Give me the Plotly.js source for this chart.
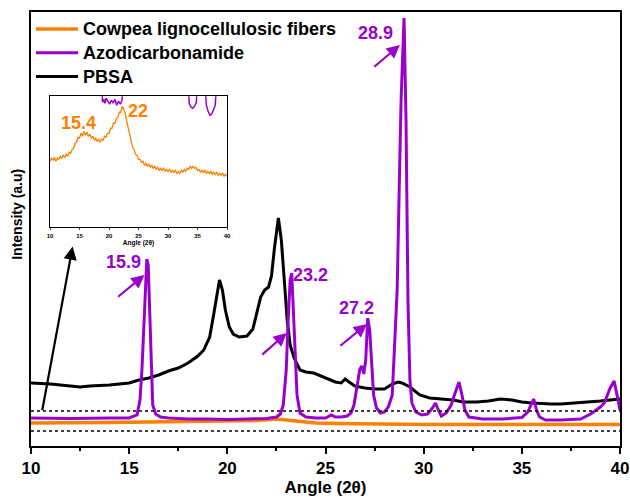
<!DOCTYPE html>
<html>
<head>
<meta charset="utf-8">
<script src="https://cdn.plot.ly/plotly-3.0.1.min.js"></script>
<style>html,body{margin:0;padding:0;background:#fff;}#chart{width:630px;height:497px;}</style>
</head>
<body>
<div id="chart"></div>
<script>
// ---- Data (intensity in arbitrary units) ----
const pbsaX = [10,11,12,12.5,13,14,15,15.5,16,16.5,17,17.5,18,18.5,18.8,19.1,19.3,19.45,19.6,19.75,19.9,20.1,20.3,20.6,21.0,21.3,21.5,21.7,21.9,22.1,22.25,22.4,22.6,22.75,22.9,23.05,23.2,23.4,23.7,24.0,24.4,25.0,25.5,25.8,26.0,26.2,26.5,27.0,27.5,28.0,28.4,28.7,28.9,29.3,29.8,30.3,31.0,31.5,32.0,32.7,33.3,33.9,34.5,35.0,35.5,36.1,36.5,37.0,37.8,38.5,39.0,39.5,40];
const pbsaY = [63,62,60,59,60,61,63,66,68,71,75,78,83,90,96,109,131,151,166,156,136,119,112,109,110,117,134,149,156,159,170,198,228,206,166,126,101,88,76,74,73,68,64,63,67,64,60,58,57,57,62,64,63,59,51,48,47,46,44,44,45,47,46,44,43,42,42,42,43,44,45,46,47];

const azoX = [10,12,14,15,15.4,15.55,15.65,15.75,15.85,15.9,15.97,16.05,16.12,16.2,16.35,16.6,17,18,19,20,21,22,22.5,22.7,22.85,23.0,23.1,23.2,23.28,23.35,23.45,23.55,23.7,24.0,24.5,25.0,25.3,25.5,25.8,26.1,26.3,26.45,26.6,26.75,26.85,26.95,27.05,27.15,27.25,27.35,27.45,27.6,27.8,28.0,28.2,28.4,28.55,28.65,28.75,28.85,29.0,29.1,29.2,29.3,29.4,29.6,29.9,30.2,30.45,30.6,30.75,30.9,31.15,31.4,31.6,31.8,31.95,32.1,32.3,33,34,35,35.3,35.5,35.6,35.75,35.9,36.2,37,38,38.5,39.0,39.2,39.5,39.7,39.85,40];
const azoY = [28,27.5,28,28,31,46,76,126,176,187,181,136,76,41,32,29,28,27,27,26.5,27,27.5,29,32,41,76,126,166,173,146,96,51,33,29,28,28,31,29,29,30,33,41,58,77,80,72,86,128,116,76,51,38,33,34,39,51,106,156,253,346,428,326,146,66,43,34,31,32,38,43,36,30,33,41,53,64,51,36,29,27,27,28.5,34,43,47,36,29,26,26,27,32,39,43,58,65,51,36];

const fiberX = [10,12,14,16,18,20,21.5,22.5,23,23.5,24.5,25.5,27,30,35,40];
const fiberY = [23,23,23.5,24,24.5,25,25.5,27,26,24.5,23,22.5,22,21.5,21.5,21.5];

// Inset: cowpea fibers alone (zoomed intensity)
const insetX = [10,10.25,10.5,10.75,11,11.25,11.5,11.75,12,12.25,12.5,12.75,13,13.25,13.5,13.75,14,14.25,14.5,14.75,15,15.25,15.5,15.75,16,16.25,16.5,16.75,17,17.25,17.5,17.75,18,18.25,18.5,18.75,19,19.25,19.5,19.75,20,20.25,20.5,20.75,21,21.25,21.5,21.75,22,22.25,22.5,22.75,23,23.25,23.5,23.75,24,24.25,24.5,24.75,25,25.25,25.5,25.75,26,26.25,26.5,26.75,27,27.25,27.5,27.75,28,28.25,28.5,28.75,29,29.25,29.5,29.75,30,30.25,30.5,30.75,31,31.25,31.5,31.75,32,32.25,32.5,32.75,33,33.25,33.5,33.75,34,34.25,34.5,34.75,35,35.25,35.5,35.75,36,36.25,36.5,36.75,37,37.25,37.5,37.75,38,38.25,38.5,38.75,39,39.25,39.5,39.75,40];
const insetY = [66,69,67,70,66,69,68,71,69,72,70,73,71,75,74,78,79,84,85,90,89,94,91,96,92,95,91,93,89,91,87,89,86,88,85,88,87,91,90,94,94,99,99,104,104,109,110,115,115,121,118,114,106,99,91,86,80,78,73,72,68,68,65,66,62,64,61,63,60,62,59,61,58,60,57,59,57,59,56,58,56,58,55,57,55,57,54,56,54,57,55,58,56,59,58,61,59,61,59,60,57,58,55,57,55,57,54,56,54,56,53,55,53,55,52,54,52,54,51,53,51];
const insetAzoX = [18.7,18.9,19.1,19.3,19.5,19.8,20.1,20.4,20.7,21.0,21.3,21.6,21.9,22.2,22.5,null,33.3,33.6,33.9,34.2,34.5,34.8,35.0,null,36.2,36.5,36.8,37.1,37.4,37.7,38.0,38.3];
const insetAzoY = [150,125,128,124,129,126,123,127,124,128,122,126,123,127,150,null,150,124,120,119,121,125,150,null,150,122,116,112,113,117,122,150];

// Reference dotted levels
const dottedLevels = [35, 15];

// Peak labels
const peakLabels = ['15.9','23.2','27.2','28.9'];
const peakTextX = [14.71,24.25,26.60,27.56];
const peakTextY = [184,171,138,413];
const arrowTailX = [14.36,21.70,25.68,27.41];
const arrowTailY = [148,90,99,378];
const arrowTipX = [15.78,23.03,27.11,28.79];
const arrowTipY = [171,113,122,401];

const insetLabels = ['15.4','22'];
const insetLabelX = [14.75,24.9];
const insetLabelY = [104,116];

const seriesNames = ['Cowpea lignocellulosic fibers','Azodicarbonamide','PBSA'];

const ORANGE = '#FF7F00', PURPLE = '#9900CC', BLACK = '#000000';
const FONT = 'Arial, "Liberation Sans", sans-serif';
const big = s => '<span style="font-size:18px">' + s + '</span>';

const traces = [
  {x: pbsaX, y: pbsaY, type:'scatter', mode:'lines', name: big(seriesNames[2]), legendrank: 3,
   line:{color:BLACK, width:3}},
  {x: fiberX, y: fiberY, type:'scatter', mode:'lines', name: big(seriesNames[0]), legendrank: 1,
   line:{color:ORANGE, width:3.5}},
  {x: azoX, y: azoY, type:'scatter', mode:'lines', name: big(seriesNames[1]), legendrank: 2,
   line:{color:PURPLE, width:3}},
  {x: insetAzoX, y: insetAzoY, type:'scatter', mode:'lines', showlegend:false, xaxis:'x2', yaxis:'y2',
   line:{color:PURPLE, width:1.5}},
  {x: insetX, y: insetY, type:'scatter', mode:'lines', showlegend:false, xaxis:'x2', yaxis:'y2',
   line:{color:ORANGE, width:1.3}}
];

const annotations = [];
peakLabels.forEach((t,i)=>{
  annotations.push({x: peakTextX[i], y: peakTextY[i], xref:'x', yref:'y', text:t, showarrow:false,
    font:{family:FONT, size:18, color:PURPLE, weight:'bold'}});
  annotations.push({x: arrowTipX[i], y: arrowTipY[i], ax: arrowTailX[i], ay: arrowTailY[i],
    xref:'x', yref:'y', axref:'x', ayref:'y', text:'', showarrow:true,
    arrowhead:2, arrowsize:1.2, arrowwidth:2.2, arrowcolor:PURPLE});
});
// arrow pointing to inset
annotations.push({x: 12.12, y: 199.5, ax: 10.56, ay: 34.3, xref:'x', yref:'y', axref:'x', ayref:'y',
  text:'', showarrow:true, arrowhead:2, arrowsize:1.2, arrowwidth:2.2, arrowcolor:BLACK});
insetLabels.forEach((t,i)=>{
  annotations.push({x: insetLabelX[i], y: insetLabelY[i], xref:'x2', yref:'y2', text:t, showarrow:false,
    font:{family:FONT, size:18, color:ORANGE, weight:'bold'}});
});
// y-axis title
annotations.push({x: -0.0238, y: 0.535, xref:'paper', yref:'paper', xanchor:'center', yanchor:'middle',
  text:'Intensity (a.u)', textangle:-90,
  showarrow:false, font:{family:FONT, size:14, color:BLACK, weight:'bold'}});

const shapes = dottedLevels.map(v => ({type:'line', xref:'x', yref:'y', x0:10, x1:40, y0:v, y1:v,
  line:{color:BLACK, width:1.3, dash:'dot'}}));

const layout = {
  width:630, height:497,
  margin:{l:31, r:10, t:12, b:51},
  paper_bgcolor:'#fff', plot_bgcolor:'#fff',
  font:{family:FONT, color:BLACK},
  showlegend:true,
  legend:{x:0, y:1.0, xanchor:'left', yanchor:'top', bgcolor:'rgba(0,0,0,0)', borderwidth:0,
    itemwidth:42, font:{family:FONT, size:16, color:BLACK, weight:'bold'}, traceorder:'normal'},
  xaxis:{range:[10,40], showgrid:false, zeroline:false, showline:true, linewidth:2, linecolor:BLACK, mirror:true,
    ticks:'outside', ticklen:6, tickwidth:2, tickcolor:BLACK, tickvals:[10,15,20,25,30,35,40],
    minor:{tickvals:[12.5,17.5,22.5,27.5,32.5,37.5], ticks:'outside', ticklen:3, tickwidth:2, tickcolor:BLACK},
    tickfont:{family:FONT, size:17, color:BLACK, weight:'bold'},
    title:{text:'Angle (2θ)', font:{family:FONT, size:17, color:BLACK, weight:'bold'}, standoff:4}},
  yaxis:{range:[0,434], showgrid:false, zeroline:false, showline:true, linewidth:2, linecolor:BLACK, mirror:true,
    ticks:'', showticklabels:false},
  xaxis2:{domain:[0.0323,0.3328], anchor:'y2', range:[10,40], showgrid:false, zeroline:false, showline:true,
    linewidth:1, linecolor:BLACK, mirror:true, ticks:'outside', ticklen:2, tickwidth:1,
    tickvals:[10,15,20,25,30,35,40], tickfont:{family:FONT, size:6, color:BLACK, weight:'bold'},
    title:{text:'Angle (2θ)', font:{family:FONT, size:6.5, color:BLACK, weight:'bold'}, standoff:1}},
  yaxis2:{domain:[0.5035,0.806], anchor:'x2', range:[0,131], showgrid:false, zeroline:false, showline:true,
    linewidth:1, linecolor:BLACK, mirror:true, ticks:'', showticklabels:false},
  annotations: annotations,
  shapes: shapes
};

Plotly.newPlot('chart', traces, layout, {displayModeBar:false, staticPlot:true});
</script>
</body>
</html>
